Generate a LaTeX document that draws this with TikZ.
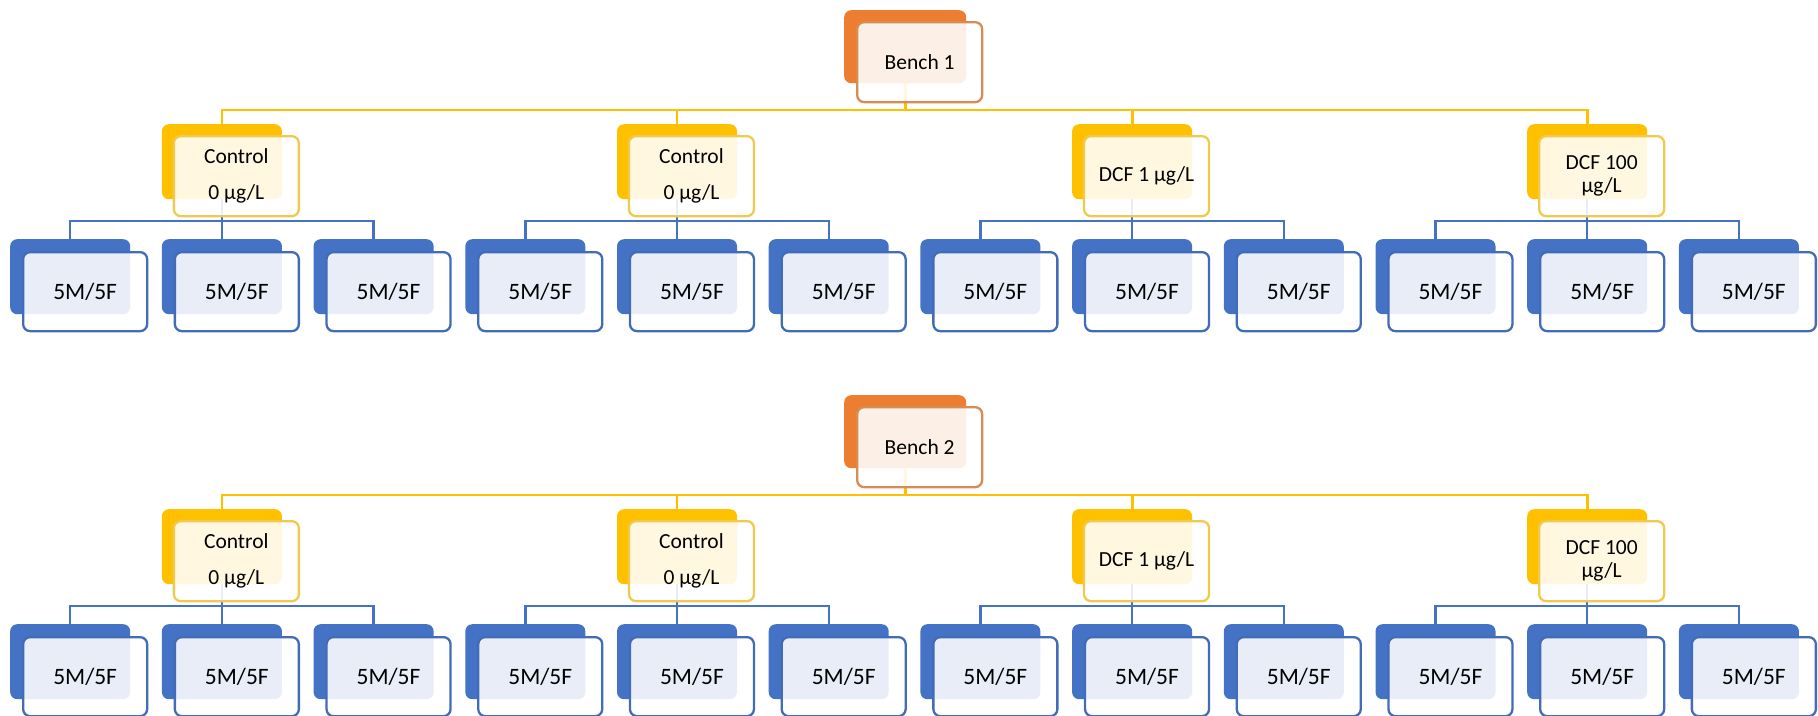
\documentclass[tikz,border=0pt]{standalone}
\usepackage{fontspec}
\setmainfont{Carlito}
\definecolor{oback}{HTML}{ED7D31}
\definecolor{obord}{RGB}{214,140,85}
\definecolor{yback}{HTML}{FFC000}
\definecolor{ybord}{RGB}{240,202,78}
\definecolor{bback}{HTML}{4472C4}
\definecolor{bbord}{RGB}{66,108,184}
\tikzset{
  backbox/.style={rectangle, rounded corners=7pt, minimum width=120pt, minimum height=75pt, anchor=north west, inner sep=0pt},
  frontbox/.style={rectangle, rounded corners=7pt, minimum width=125pt, minimum height=80pt, anchor=north west, fill=white, fill opacity=0.88, text opacity=1, line width=2.3pt, align=center, font=\fontsize{21.5}{23}\selectfont, text=black, inner sep=0pt},
  obk/.style={backbox, fill=oback, minimum width=122pt, minimum height=73pt},
  ofr/.style={frontbox, draw=obord},
  ybk/.style={backbox, fill=yback},
  yfr/.style={frontbox, draw=ybord},
  bbk/.style={backbox, fill=bback},
  bfr/.style={frontbox, draw=bbord, minimum width=124pt, minimum height=79pt, font=\fontsize{23.5}{26}\selectfont},
  yconn/.style={draw=yback, line width=2.8pt},
  bconn/.style={draw=bback, line width=2.4pt},
}
\begin{document}
\begin{tikzpicture}[x=1pt,y=-1pt]
\useasboundingbox (0,0) rectangle (1818,715);
\foreach \r/\yo in {1/0,2/385}{
  % back boxes
  \node[obk] (bb\r) at (844,10+\yo) {};
  \coordinate (ybar\r) at (0,110+\yo);
  \coordinate (bbar\r) at (0,221+\yo);
  \foreach \g in {0,...,3}{
    \pgfmathsetmacro\cx{161.7+455.1*\g}
    \node[ybk] (cb\r\g) at (\cx,124+\yo) {};
    \foreach \k in {0,1,2}{
      \pgfmathsetmacro\kx{10+151.7*(3*\g+\k)}
      \node[bbk] (kb\r\g\k) at (\kx,239+\yo) {};
    }
  }
  % connectors
  \foreach \g in {0,...,3}{
    \draw[yconn] (bb\r.south) -- (bb\r.south |- ybar\r) -| (cb\r\g.north);
    \foreach \k in {0,1,2}{
      \draw[bconn] (cb\r\g.south) -- (cb\r\g.south |- bbar\r) -| (kb\r\g\k.north);
    }
  }
  % front boxes
  \node[ofr] (bf\r) at (856,21+\yo) {Bench \r};
  \foreach \g/\lab in {0/{Control\\[13pt]0 µg/L},1/{Control\\[13pt]0 µg/L},2/{DCF 1 µg/L},3/{DCF 100\\µg/L}}{
    \pgfmathsetmacro\cx{172.7+455.1*\g}
    \node[yfr] (cf\r\g) at (\cx,135+\yo) {\lab};
    \foreach \k in {0,1,2}{
      \pgfmathsetmacro\kx{22+151.7*(3*\g+\k)}
      \node[bfr] (kf\r\g\k) at (\kx,251+\yo) {5M/5F};
    }
  }
}
\end{tikzpicture}
\end{document}
